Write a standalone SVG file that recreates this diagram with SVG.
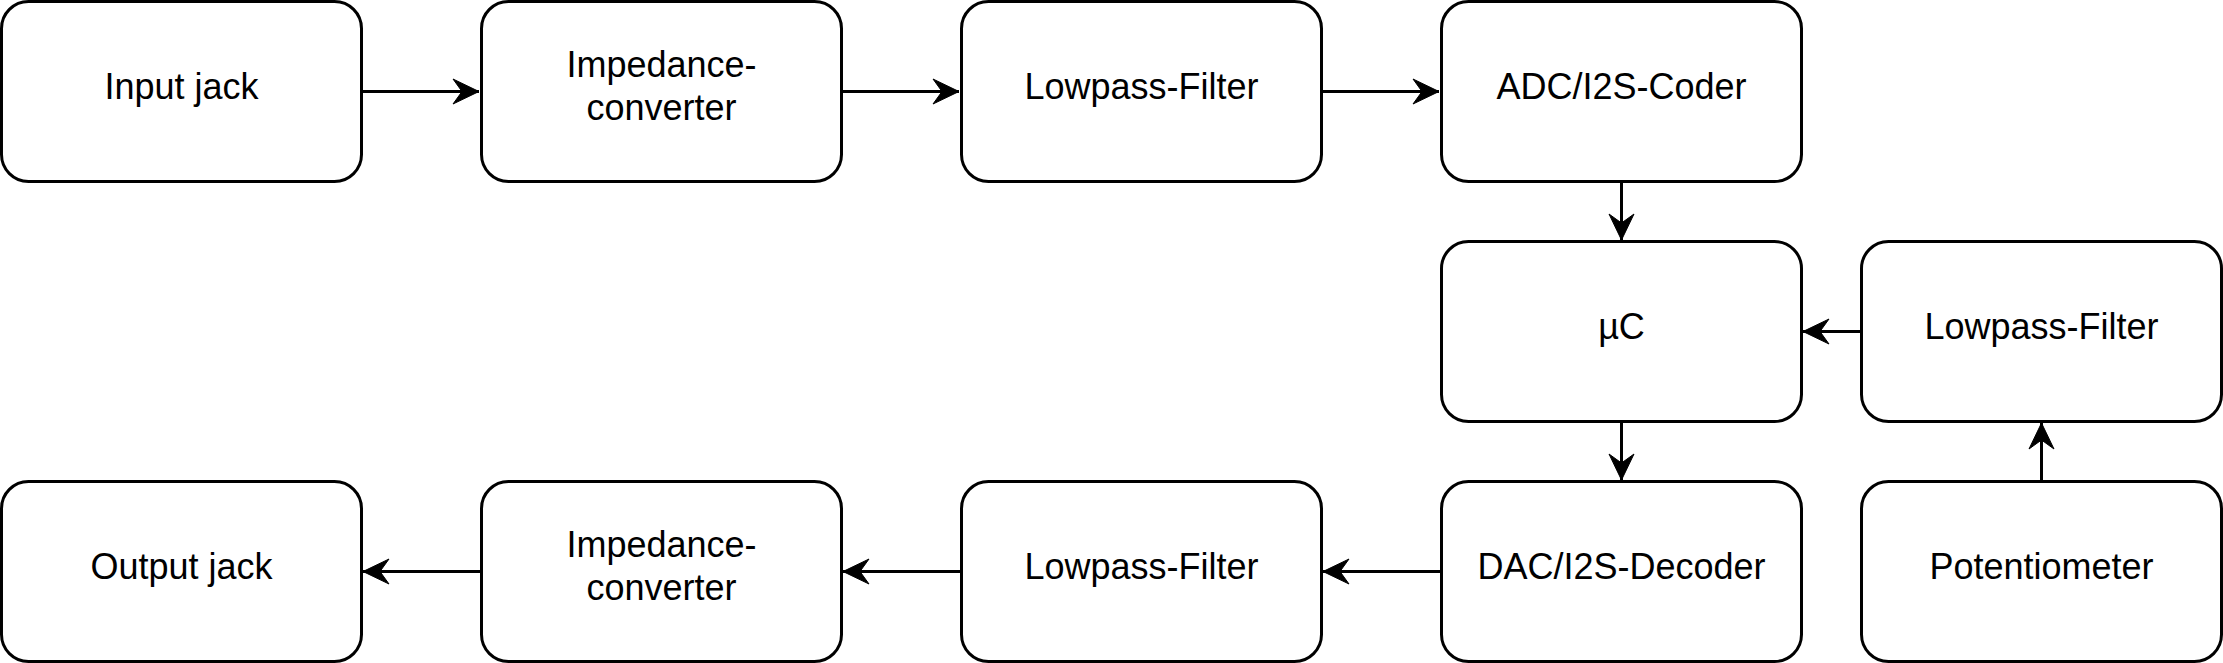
<svg xmlns="http://www.w3.org/2000/svg" width="2223" height="663" viewBox="0 0 2223 663">
<style>
.box{fill:#fff;stroke:#000;stroke-width:3}
.lbl{font-family:"Liberation Sans",Arial,Helvetica,sans-serif;font-size:36px;fill:#000;text-anchor:middle}
.wire{fill:none;stroke:#000;stroke-width:3}
</style>
<defs>
<marker id="arr" markerUnits="userSpaceOnUse" viewBox="0 0 28 28" refX="27" refY="14" markerWidth="28" markerHeight="28" orient="auto">
<path d="M27 14 L1 1.5 L10 14 L1 26.5 Z" fill="#000" stroke="#000" stroke-width="1"/>
</marker>
</defs>
<g id="connectors">
<path class="wire" d="M361.5 91.5 H479" marker-end="url(#arr)"/>
<path class="wire" d="M841.5 91.5 H959" marker-end="url(#arr)"/>
<path class="wire" d="M1321.5 91.5 H1439" marker-end="url(#arr)"/>
<path class="wire" d="M1621.5 181.5 V240" marker-end="url(#arr)"/>
<path class="wire" d="M1861.5 331.5 H1803" marker-end="url(#arr)"/>
<path class="wire" d="M1621.5 421.5 V480" marker-end="url(#arr)"/>
<path class="wire" d="M2041.5 481.5 V423" marker-end="url(#arr)"/>
<path class="wire" d="M1441.5 571.5 H1323" marker-end="url(#arr)"/>
<path class="wire" d="M961.5 571.5 H843" marker-end="url(#arr)"/>
<path class="wire" d="M481.5 571.5 H363" marker-end="url(#arr)"/>
</g>
<g id="input-jack"><rect class="box" x="1.5" y="1.5" width="360" height="180" rx="27"/><text class="lbl" x="181.5" y="99">Input jack</text></g>
<g id="impedance-in"><rect class="box" x="481.5" y="1.5" width="360" height="180" rx="27"/><text class="lbl" x="661.5" y="77">Impedance-</text><text class="lbl" x="661.5" y="120">converter</text></g>
<g id="lowpass-in"><rect class="box" x="961.5" y="1.5" width="360" height="180" rx="27"/><text class="lbl" x="1141.5" y="99">Lowpass-Filter</text></g>
<g id="adc"><rect class="box" x="1441.5" y="1.5" width="360" height="180" rx="27"/><text class="lbl" x="1621.5" y="99">ADC/I2S-Coder</text></g>
<g id="uc"><rect class="box" x="1441.5" y="241.5" width="360" height="180" rx="27"/><text class="lbl" x="1621.5" y="339">µC</text></g>
<g id="lowpass-pot"><rect class="box" x="1861.5" y="241.5" width="360" height="180" rx="27"/><text class="lbl" x="2041.5" y="339">Lowpass-Filter</text></g>
<g id="output-jack"><rect class="box" x="1.5" y="481.5" width="360" height="180" rx="27"/><text class="lbl" x="181.5" y="579">Output jack</text></g>
<g id="impedance-out"><rect class="box" x="481.5" y="481.5" width="360" height="180" rx="27"/><text class="lbl" x="661.5" y="557">Impedance-</text><text class="lbl" x="661.5" y="600">converter</text></g>
<g id="lowpass-out"><rect class="box" x="961.5" y="481.5" width="360" height="180" rx="27"/><text class="lbl" x="1141.5" y="579">Lowpass-Filter</text></g>
<g id="dac"><rect class="box" x="1441.5" y="481.5" width="360" height="180" rx="27"/><text class="lbl" x="1621.5" y="579">DAC/I2S-Decoder</text></g>
<g id="potentiometer"><rect class="box" x="1861.5" y="481.5" width="360" height="180" rx="27"/><text class="lbl" x="2041.5" y="579">Potentiometer</text></g>
</svg>
